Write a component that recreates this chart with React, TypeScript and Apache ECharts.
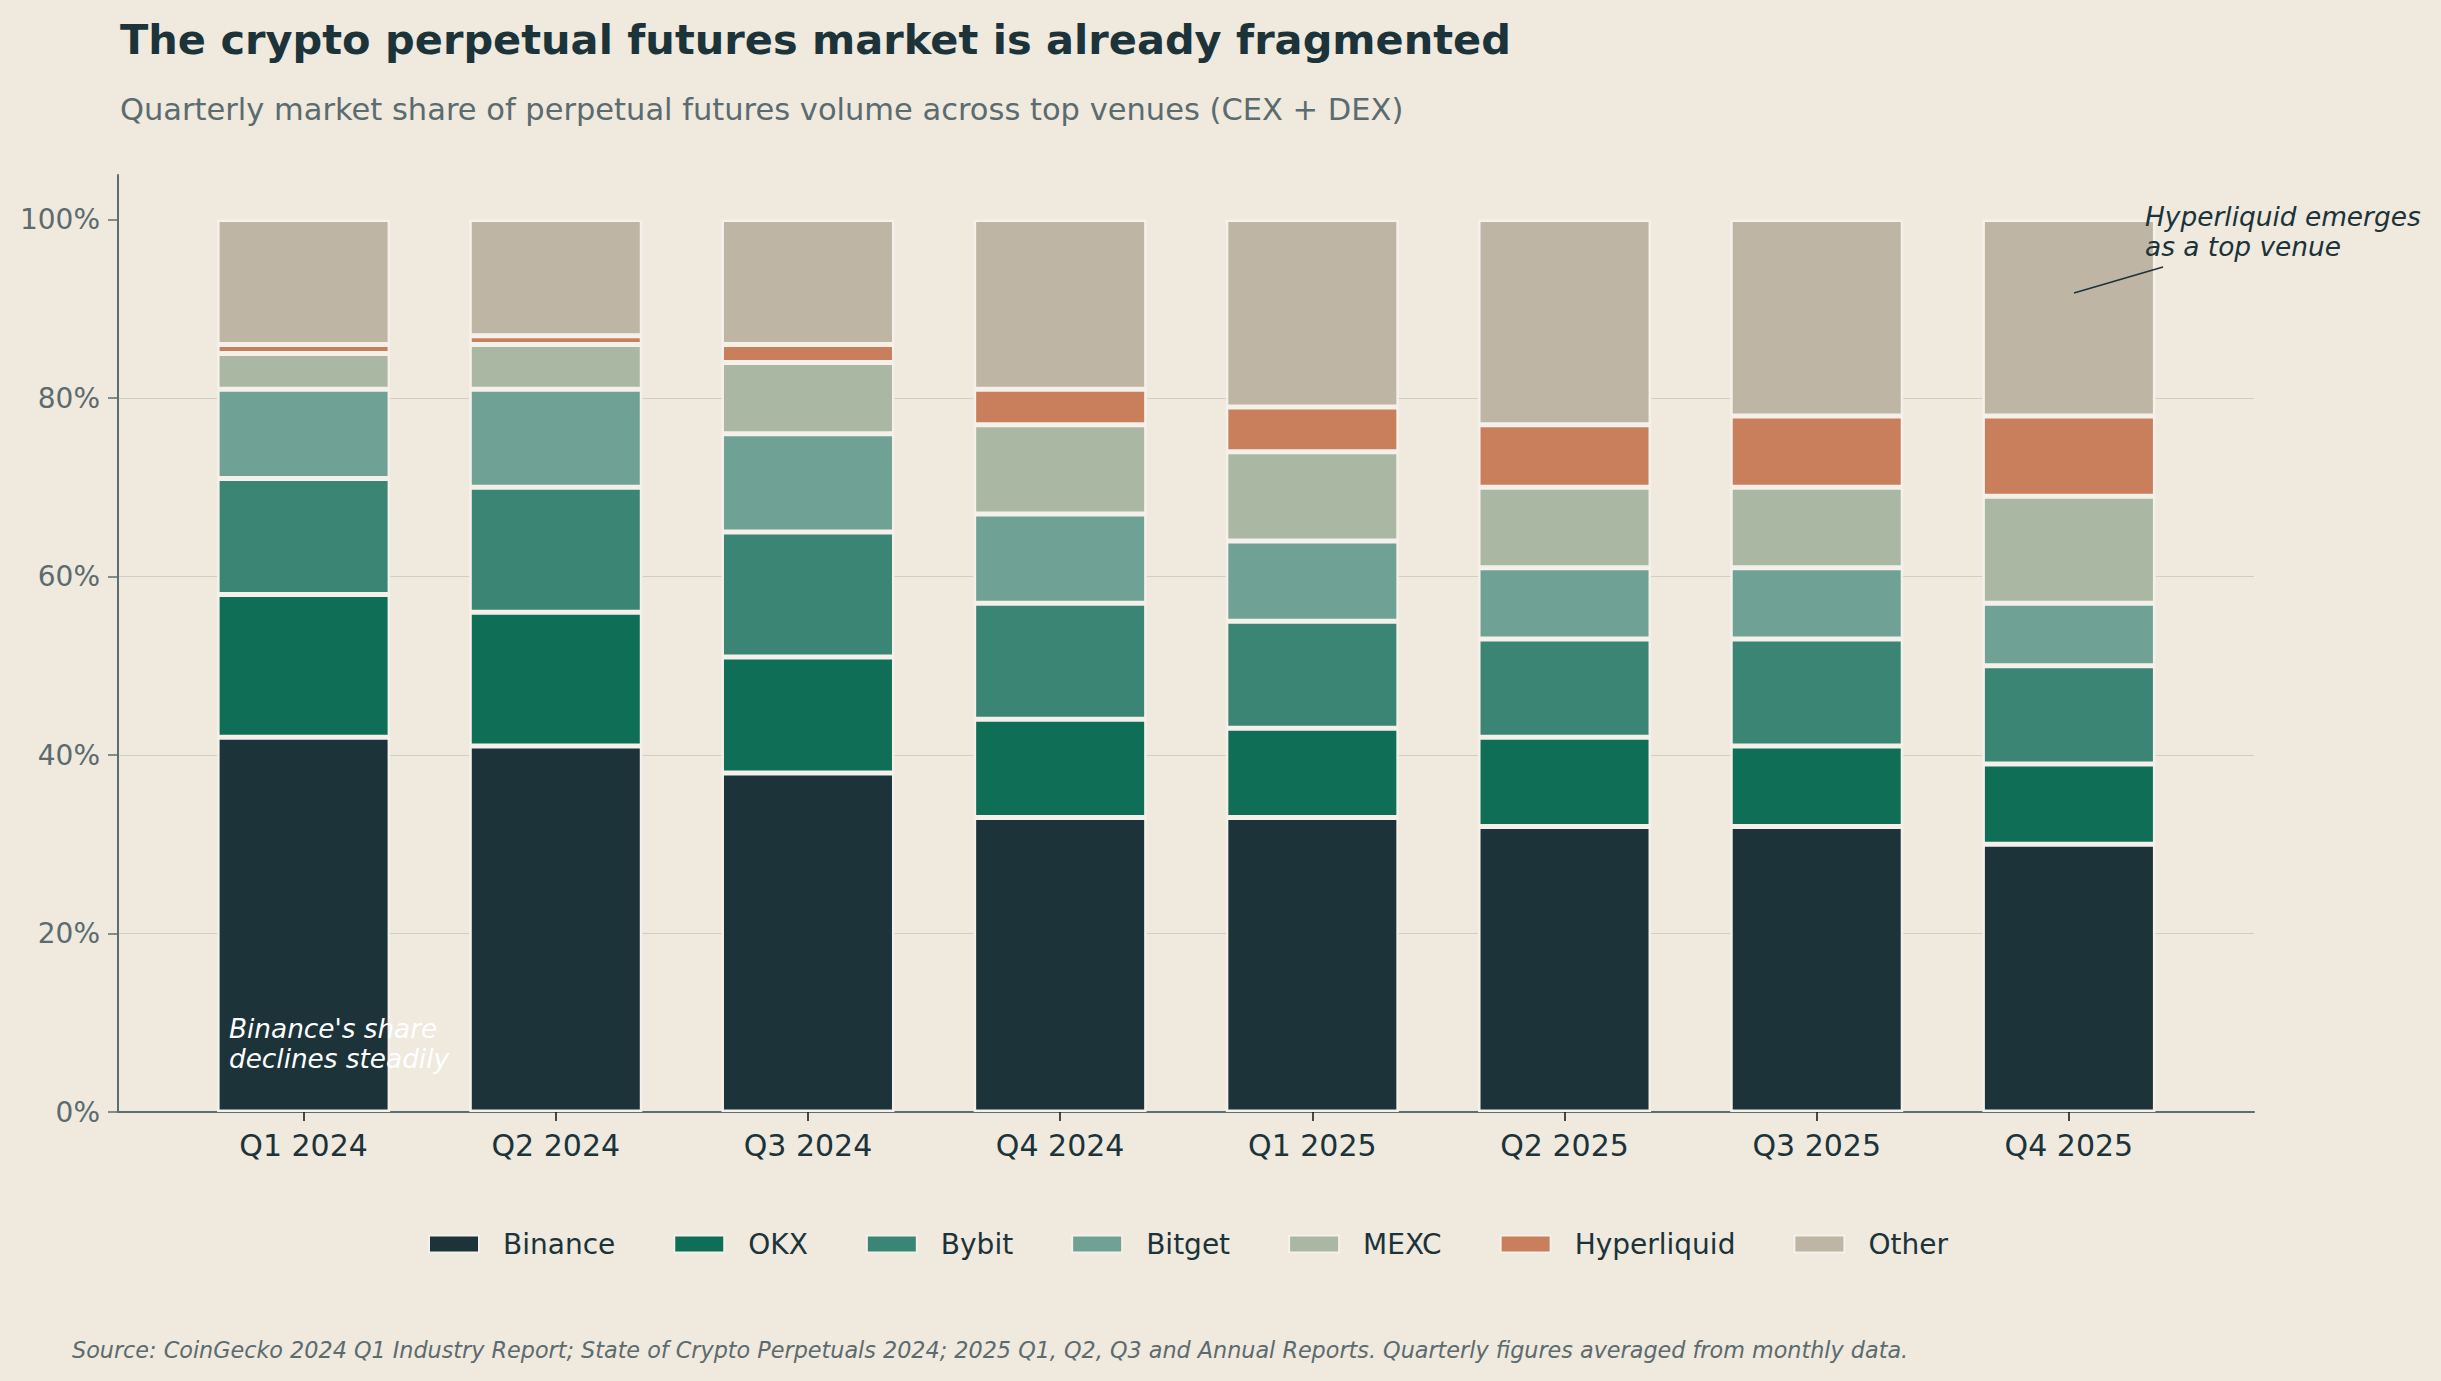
import React, { useEffect, useRef } from "react";
import * as echarts from "echarts";

const categories = ["Q1 2024", "Q2 2024", "Q3 2024", "Q4 2024", "Q1 2025", "Q2 2025", "Q3 2025", "Q4 2025"];
const binance = [42, 41, 38, 33, 33, 32, 32, 30];
const okx = [16, 15, 13, 11, 10, 10, 9, 9];
const bybit = [13, 14, 14, 13, 12, 11, 12, 11];
const bitget = [10, 11, 11, 10, 9, 8, 8, 7];
const mexc = [4, 5, 8, 10, 10, 9, 9, 12];
const hyperliquid = [1, 1, 2, 4, 5, 7, 8, 9];
const other = [14, 13, 14, 19, 21, 23, 22, 22];
const yTicks = [0, 20, 40, 60, 80, 100];

const seriesDefs = [
  { name: "Binance", values: binance, color: "#1B3339" },
  { name: "OKX", values: okx, color: "#0F6E56" },
  { name: "Bybit", values: bybit, color: "#3B8575" },
  { name: "Bitget", values: bitget, color: "#6FA294" },
  { name: "MEXC", values: mexc, color: "#AAB8A3" },
  { name: "Hyperliquid", values: hyperliquid, color: "#C97F5C" },
  { name: "Other", values: other, color: "#BEB5A5" },
];

const FONT = "DejaVu Sans";
const BG = "#EFE9DE";
const DARK = "#1B3339";
const GRAY = "#5B6B6E";
const SPINE = "#5B6E71";

export default function App() {
  const ref = useRef<HTMLDivElement>(null);
  useEffect(() => {
    if (!ref.current) return;
    const chart = echarts.init(ref.current, null, { renderer: "svg" });
    chart.setOption({
      animation: false,
      backgroundColor: BG,
      textStyle: { fontFamily: FONT },
      grid: [
        { left: 118, right: 187, top: 175, bottom: 269, containLabel: false },
        { left: 177.5, right: 246, top: 175, bottom: 269, containLabel: false },
      ],
      xAxis: [
        {
          type: "value",
          gridIndex: 0,
          min: 0,
          max: 1,
          splitLine: { show: false },
          axisTick: { show: false },
          axisLabel: { show: false },
          axisLine: { show: true, onZero: false, lineStyle: { color: SPINE, width: 2 } },
        },
        {
          type: "category",
          gridIndex: 1,
          data: categories,
          axisLine: { show: false },
          axisTick: { show: true, alignWithLabel: true, length: 9, lineStyle: { color: "#111111", width: 1.5 } },
          axisLabel: { fontSize: 30, color: DARK, fontFamily: FONT, margin: 18 },
          splitLine: { show: false },
        },
      ],
      yAxis: [
        {
          type: "value",
          gridIndex: 0,
          min: 0,
          max: 105,
          interval: 20,
          axisLine: { show: true, onZero: false, lineStyle: { color: SPINE, width: 2 } },
          axisTick: { show: true, customValues: yTicks, length: 10, lineStyle: { color: SPINE, width: 1.5 } },
          axisLabel: {
            customValues: yTicks,
            formatter: (v: number) => (v <= 100 && v % 20 === 0 ? v + "%" : ""),
            fontSize: 28,
            color: GRAY,
            fontFamily: FONT,
            margin: 18,
          },
          splitLine: { show: true, showMaxLine: false, lineStyle: { color: "#D2CEC4", width: 1 } },
        },
        {
          type: "value",
          gridIndex: 1,
          min: 0,
          max: 105,
          show: false,
          splitLine: { show: false },
        },
      ],
      legend: {
        left: 423,
        top: 1225,
        itemWidth: 50,
        itemHeight: 17,
        itemGap: 58,
        icon: "rect",
        textStyle: { fontSize: 28, color: DARK, fontFamily: FONT, padding: [0, 0, 0, 19] },
        data: seriesDefs.map((s) => s.name),
      },
      series: seriesDefs.map((s) => ({
        name: s.name,
        type: "bar",
        stack: "total",
        xAxisIndex: 1,
        yAxisIndex: 1,
        barWidth: 173,
        data: s.values,
        itemStyle: { color: s.color, borderColor: "#F5F1EA", borderWidth: 2.5 },
        emphasis: { disabled: true },
      })),
      graphic: [
        {
          type: "text",
          x: 120,
          y: 39,
          style: {
            text: "The crypto perpetual futures market is already fragmented",
            fontSize: 41.5,
            fontWeight: "bold",
            fontFamily: FONT,
            fill: DARK,
            verticalAlign: "middle",
            align: "left",
          },
        },
        {
          type: "text",
          x: 120,
          y: 109,
          style: {
            text: "Quarterly market share of perpetual futures volume across top venues (CEX + DEX)",
            fontSize: 30.5,
            fontFamily: FONT,
            fill: GRAY,
            verticalAlign: "middle",
            align: "left",
          },
        },
        {
          type: "text",
          x: 229,
          y: 1044,
          z: 100,
          style: {
            text: "Binance's share\ndeclines steadily",
            fontSize: 26.3,
            fontStyle: "italic",
            fontFamily: FONT,
            fill: "#FFFFFF",
            lineHeight: 30,
            verticalAlign: "middle",
            align: "left",
          },
        },
        {
          type: "text",
          x: 2145,
          y: 231,
          z: 100,
          style: {
            text: "Hyperliquid emerges\nas a top venue",
            fontSize: 26.4,
            fontStyle: "italic",
            fontFamily: FONT,
            fill: DARK,
            lineHeight: 30,
            verticalAlign: "middle",
            align: "left",
          },
        },
        {
          type: "line",
          z: 100,
          shape: { x1: 2074, y1: 293, x2: 2163, y2: 267 },
          style: { stroke: DARK, lineWidth: 1.5 },
        },
        {
          type: "text",
          x: 72,
          y: 1350,
          style: {
            text: "Source: CoinGecko 2024 Q1 Industry Report; State of Crypto Perpetuals 2024; 2025 Q1, Q2, Q3 and Annual Reports. Quarterly figures averaged from monthly data.",
            fontSize: 22.3,
            fontStyle: "italic",
            fontFamily: FONT,
            fill: GRAY,
            verticalAlign: "middle",
            align: "left",
          },
        },
      ],
    });
    return () => chart.dispose();
  }, []);
  return (
    <div
      ref={ref}
      style={{ position: "fixed", left: 0, top: 0, width: 2441, height: 1381 }}
    />
  );
}
